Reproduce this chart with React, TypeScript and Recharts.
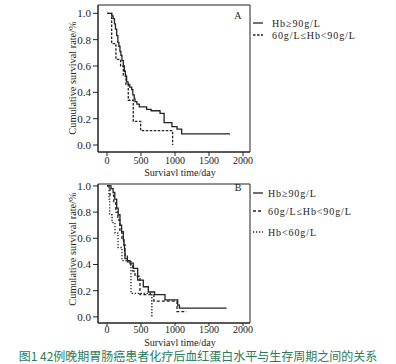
import React from "react";
import { LineChart, Line, XAxis, YAxis, ReferenceDot, ReferenceArea } from "recharts";

// ---- data ----
const X_TICKS = [0, 500, 1000, 1500, 2000];
const Y_TICKS = [0, 0.2, 0.4, 0.6, 0.8, 1.0];
const X_LABEL = "Surviavl time/day";
const Y_LABEL = "Cumulative survival rate/%";
const CAPTION = "图1 42例晚期胃肠癌患者化疗后血红蛋白水平与生存周期之间的关系";
const NAME_HIGH = "Hb≥90g/L";
const NAME_MID = "60g/L≤Hb<90g/L";
const NAME_LOW = "Hb<60g/L";

// Panel A
const aHighT = [0, 70, 90, 110, 125, 143, 160, 175, 191, 205, 220, 240, 255, 270, 289, 310, 335, 363, 380, 400, 412, 440, 475, 583, 650, 780, 840, 955, 1030, 1098, 1810];
const aHighS = [1, 0.98, 0.96, 0.92, 0.88, 0.83, 0.78, 0.75, 0.71, 0.68, 0.64, 0.6, 0.56, 0.52, 0.48, 0.46, 0.44, 0.42, 0.38, 0.35, 0.33, 0.31, 0.29, 0.27, 0.26, 0.24, 0.17, 0.14, 0.12, 0.085, 0.085];
const aMidT = [0, 69, 132, 200, 240, 279, 313, 387, 495, 965];
const aMidS = [1, 0.77, 0.65, 0.6, 0.53, 0.46, 0.34, 0.18, 0.11, 0];

// Panel B
const bHighT = [0, 60, 90, 115, 143, 165, 191, 215, 240, 250, 258, 265, 300, 338, 387, 451, 534, 608, 700, 853, 1040, 1065, 1760];
const bHighS = [1, 0.98, 0.95, 0.9, 0.83, 0.78, 0.7, 0.65, 0.59, 0.55, 0.5, 0.445, 0.43, 0.41, 0.37, 0.28, 0.23, 0.19, 0.17, 0.13, 0.09, 0.066, 0.066];
const bMidT = [0, 44, 100, 130, 160, 190, 220, 245, 265, 300, 345, 380, 412, 485, 690, 1030, 1171];
const bMidS = [1, 0.93, 0.87, 0.8, 0.74, 0.66, 0.6, 0.55, 0.47, 0.42, 0.39, 0.35, 0.31, 0.17, 0.12, 0.04, 0.04];
const bLowT = [0, 30, 40, 75, 118, 162, 220, 353, 660];
const bLowS = [1, 0.9, 0.78, 0.72, 0.64, 0.53, 0.43, 0.18, 0];

const toPts = (t: number[], s: number[]) => t.map((v, i) => ({ t: v, s: s[i] }));

const SERIF = "'Liberation Serif', 'Times New Roman', serif";
const INK = "#222";
const X_DOMAIN: [number, number] = [-132, 2103];

type Entry = { name: string; dash?: string; y: number };

function LegendBox({ entries, top, lineX1, lineX2, textX, h }: { entries: Entry[]; top: number; lineX1: number; lineX2: number; textX: number; h: number }) {
  return (
    <svg width={146} height={h} style={{ position: "absolute", left: 250, top, display: "block" }}>
      {entries.map((e, i) => (
        <g key={i}>
          <line x1={lineX1} x2={lineX2} y1={e.y} y2={e.y} stroke={INK} strokeWidth={1.3} strokeDasharray={e.dash} />
          <text x={textX} y={e.y + 3.5} fontSize={10} fontFamily={SERIF} fill={INK} letterSpacing={0.9}>
            {e.name}
          </text>
        </g>
      ))}
    </svg>
  );
}

function YTitle({ cy }: { cy: number }) {
  return (
    <svg width={30} height={160} style={{ position: "absolute", left: 57, top: cy - 80, display: "block", overflow: "visible" }}>
      <text
        transform="translate(15,80) rotate(-90)"
        textAnchor="middle"
        dominantBaseline="central"
        fontSize={10.3}
        fontFamily={SERIF}
        fill={INK}
      >
        {Y_LABEL}
      </text>
    </svg>
  );
}

type PanelProps = {
  top: number;
  height: number;
  marginTop: number;
  marginBottom: number;
  yDomain: [number, number];
  xAxisHeight: number;
  tickSize: number;
  tickMargin: number;
  letter: string;
  series: { data: { t: number; s: number }[]; dash?: string; name: string }[];
};

function Panel(p: PanelProps) {
  return (
    <div style={{ position: "absolute", left: 0, top: p.top }}>
      <LineChart width={396} height={p.height} margin={{ top: p.marginTop, right: 146, left: 68, bottom: p.marginBottom }}>
        <XAxis
          dataKey="t"
          type="number"
          domain={X_DOMAIN}
          allowDataOverflow
          ticks={X_TICKS}
          tickSize={p.tickSize}
          tickMargin={p.tickMargin}
          height={p.xAxisHeight}
          stroke={INK}
          tick={{ fontSize: 10, fill: INK, fontFamily: SERIF }}
          label={{ value: X_LABEL, position: "insideBottom", offset: 0, dx: 6, style: { fontSize: 10, fill: INK, fontFamily: SERIF } }}
        />
        <YAxis
          type="number"
          domain={p.yDomain}
          allowDataOverflow
          ticks={Y_TICKS}
          tickSize={5}
          tickMargin={2}
          width={30}
          stroke={INK}
          tickFormatter={(v: number) => v.toFixed(1)}
          tick={{ fontSize: 11, fill: INK, fontFamily: SERIF }}
        />
        <ReferenceArea x1={X_DOMAIN[0]} x2={X_DOMAIN[1]} y1={p.yDomain[0]} y2={p.yDomain[1]} fill="none" fillOpacity={0} stroke={INK} strokeWidth={1} ifOverflow="visible" />
        {p.series.map((s, i) => (
          <Line
            key={i}
            data={s.data}
            dataKey="s"
            name={s.name}
            type="stepAfter"
            stroke={INK}
            strokeWidth={1.3}
            strokeDasharray={s.dash}
            dot={false}
            activeDot={false}
            isAnimationActive={false}
          />
        ))}
        <ReferenceDot
          x={1926}
          y={0.987}
          r={0}
          fill="none"
          stroke="none"
          label={{ value: p.letter, position: "center", style: { fontSize: 10, fill: INK, fontFamily: SERIF } }}
        />
      </LineChart>
    </div>
  );
}

export default function App() {
  return (
    <div style={{ position: "absolute", left: 0, top: 0, width: 396, height: 364, background: "#fff", overflow: "hidden", fontFamily: SERIF }}>
      <Panel
        top={0}
        height={182}
        marginTop={5}
        marginBottom={6}
        yDomain={[-0.053, 1.063]}
        xAxisHeight={24}
        tickSize={4}
        tickMargin={1}
        letter="A"
        series={[
          { data: toPts(aHighT, aHighS), name: NAME_HIGH },
          { data: toPts(aMidT, aMidS), dash: "2.5 1.5", name: NAME_MID },
        ]}
      />
      <YTitle cy={78} />
      <LegendBox
        top={10}
        h={40}
        lineX1={3}
        lineX2={13}
        textX={22}
        entries={[
          { name: NAME_HIGH, y: 13 },
          { name: NAME_MID, dash: "2.5 1.5", y: 25 },
        ]}
      />
      <Panel
        top={180}
        height={171}
        marginTop={4}
        marginBottom={5}
        yDomain={[-0.047, 1.015]}
        xAxisHeight={23}
        tickSize={3}
        tickMargin={0}
        letter="B"
        series={[
          { data: toPts(bHighT, bHighS), name: NAME_HIGH },
          { data: toPts(bMidT, bMidS), dash: "3 2", name: NAME_MID },
          { data: toPts(bLowT, bLowS), dash: "1.3 1.7", name: NAME_LOW },
        ]}
      />
      <YTitle cy={249} />
      <LegendBox
        top={184}
        h={60}
        lineX1={3}
        lineX2={13}
        textX={18}
        entries={[
          { name: NAME_HIGH, y: 9 },
          { name: NAME_MID, dash: "3 2", y: 27 },
          { name: NAME_LOW, dash: "1.3 1.7", y: 48 },
        ]}
      />
      <div
        style={{
          position: "absolute",
          left: 0,
          width: 396,
          top: 349,
          textAlign: "center",
          fontFamily: "'Noto Sans CJK SC', sans-serif",
          fontSize: 12,
          lineHeight: "13px",
          color: "#2b7a5c",
          whiteSpace: "nowrap",
        }}
      >
        {CAPTION}
      </div>
    </div>
  );
}
